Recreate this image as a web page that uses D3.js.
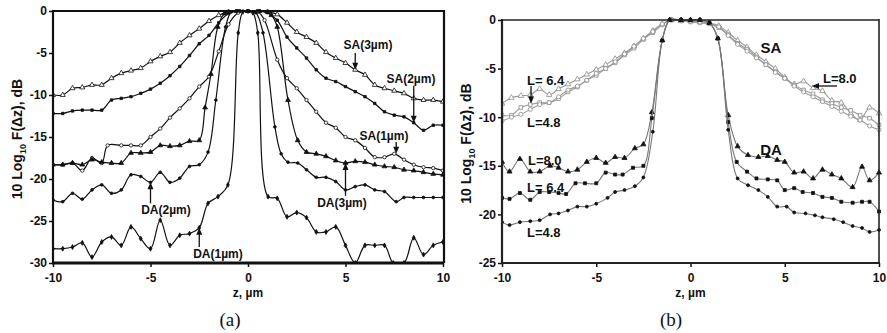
<!DOCTYPE html>
<html>
<head>
<meta charset="utf-8">
<script src="https://cdn.jsdelivr.net/npm/d3@7"></script>
<style>
  body { margin: 0; background: #fff; }
  text { font-family: Arial, "Liberation Sans", sans-serif; }
</style>
</head>
<body>
<svg id="chart" width="887" height="333"></svg>
<script>
// ---------- panel (a): single-aperture (SA) and double-aperture (DA) profiles ----------
const zTicks = [-10, -5, 0, 5, 10];
const yTicksA = [0, -5, -10, -15, -20, -25, -30];
const yTicksB = [0, -5, -10, -15, -20, -25];

const sa3um = [[-10,-10.0],[-9.5,-10.0],[-9,-9.2],[-8.5,-9.1],[-8,-8.8],[-7.5,-8.8],[-7,-8.0],[-6.5,-7.4],[-6,-7.1],[-5.5,-6.8],[-5,-6.0],[-4.5,-5.4],[-4,-4.9],[-3.5,-3.8],[-3,-2.9],[-2.5,-2.1],[-2,-1.2],[-1.5,-0.5],[-1,-0.1],[-0.5,0],[0,0],[0.5,0],[1,-0.1],[1.5,-0.4],[2,-1.4],[2.5,-2.5],[3,-3.1],[3.5,-3.8],[4,-4.9],[4.5,-5.6],[5,-6.2],[5.5,-7.0],[6,-7.6],[6.5,-8.8],[7,-9.2],[7.5,-9.5],[8,-9.8],[8.5,-10.4],[9,-10.6],[9.5,-10.6],[10,-10.8]];
const sa2um = [[-10,-12.2],[-9.5,-12.2],[-9,-11.9],[-8.5,-11.8],[-8,-11.8],[-7.5,-11.8],[-7,-10.6],[-6.5,-10.4],[-6,-10.2],[-5.5,-9.8],[-5,-9.3],[-4.5,-8.6],[-4,-7.7],[-3.5,-6.6],[-3,-5.3],[-2.5,-3.9],[-2,-2.9],[-1.5,-1.4],[-1,-0.3],[-0.5,0],[0,0],[0.5,0],[1,-0.2],[1.5,-1.1],[2,-3.1],[2.5,-4.4],[3,-5.6],[3.5,-7.0],[4,-8.0],[4.5,-8.4],[5,-9.0],[5.5,-9.6],[6,-10.2],[6.5,-11.0],[7,-12.0],[7.5,-12.4],[8,-12.6],[8.5,-13.3],[9,-14.2],[9.5,-13.6],[10,-13.6]];
const sa1um = [[-10,-18.3],[-9.5,-18.3],[-9,-18.1],[-8.5,-19.0],[-8,-17.5],[-7.5,-18.1],[-7.2,-16.0],[-6.5,-16.0],[-6,-16.0],[-5.5,-16.0],[-5,-15.0],[-4.5,-14.0],[-4,-12.7],[-3.5,-11.6],[-3,-10.4],[-2.5,-9.0],[-2,-7.8],[-1.5,-4.8],[-1,-1.6],[-0.5,-0.2],[0,0],[0.5,-0.1],[0.85,-1.1],[1.5,-5.8],[2,-8.0],[2.5,-9.2],[3,-10.6],[3.5,-12.0],[4,-13.3],[4.5,-13.9],[5,-15.0],[5.5,-15.4],[6,-16.3],[6.5,-17.4],[7,-17.4],[7.5,-17.0],[8,-17.7],[8.5,-18.3],[9,-18.6],[9.5,-18.7],[10,-19.0]];
const da3um = [[-10,-18.3],[-9.5,-18.3],[-9,-18.1],[-8.5,-18.3],[-8,-17.7],[-7.5,-18.0],[-7,-18.1],[-6.5,-18.1],[-6,-16.9],[-5.5,-16.9],[-5,-16.8],[-4.5,-16.0],[-4,-16.1],[-3.5,-16.0],[-3,-15.5],[-2.5,-15.4],[-2.2,-11.5],[-1.9,-7.5],[-1.55,-1.9],[-1.2,-0.3],[-0.6,0],[0,0],[0.6,0],[1.2,-0.5],[1.5,-1.9],[2.05,-10.6],[2.55,-15.4],[3,-16.8],[3.5,-17.0],[4,-17.3],[4.5,-17.8],[5,-18.1],[5.5,-17.9],[6,-18.0],[6.5,-18.3],[7,-18.5],[7.5,-18.6],[8,-18.9],[8.5,-19.0],[9,-19.2],[9.5,-19.4],[10,-19.5]];
const da2um = [[-10,-22.5],[-9.5,-22.7],[-9,-21.7],[-8.5,-22.4],[-8,-21.3],[-7.5,-20.7],[-7,-21.7],[-6.5,-21.3],[-6,-19.5],[-5.5,-19.7],[-5,-20.4],[-4.5,-19.2],[-4,-20.4],[-3.5,-19.9],[-3,-18.5],[-2.5,-18.3],[-2.05,-16.8],[-1.65,-10.6],[-1.15,-1.9],[-0.85,-0.1],[-0.4,0],[0,0],[0.4,-0.2],[0.77,-2.6],[1.38,-13.8],[1.7,-17.0],[2.05,-18.0],[2.55,-18.1],[3,-18.9],[3.5,-19.8],[4,-19.8],[4.5,-20.3],[5,-21.3],[5.5,-20.9],[6,-20.7],[6.5,-21.3],[7,-21.5],[7.6,-22.7],[8,-22.2],[8.5,-22.2],[9,-22.2],[9.5,-22.2],[10,-22.2]];
const da1um = [[-10,-28.3],[-9.5,-28.3],[-9,-28.1],[-8.5,-27.6],[-8,-29.3],[-7.5,-27.5],[-7,-26.9],[-6.5,-27.9],[-6,-25.7],[-5.5,-27.1],[-5,-28.3],[-4.5,-24.9],[-4,-27.9],[-3.5,-26.7],[-3,-26.5],[-2.5,-25.8],[-2.05,-22.9],[-1.54,-22.1],[-1.03,-20.7],[-0.5,-2.6],[-0.26,-0.1],[0,0],[0.25,-0.2],[0.5,-2.6],[1.03,-22.1],[1.5,-22.3],[2,-24.5],[2.5,-24.0],[3,-24.6],[3.5,-26.3],[4,-26.3],[4.5,-25.7],[5,-27.9],[5.5,-30],[6,-27.9],[6.5,-27.9],[7,-27.9],[7.45,-30],[8,-30],[8.5,-27.0],[9,-29.0],[9.5,-27.9],[10,-27.5]];

// ---------- panel (b): aperture length L ----------
const saL80 = [[-10,-8.6],[-9.5,-8.0],[-9,-7.8],[-8.5,-7.7],[-8,-7.1],[-7.5,-7.7],[-7,-7.1],[-6.5,-6.6],[-6,-6.1],[-5.5,-5.6],[-5,-5.1],[-4.5,-4.6],[-4,-4.0],[-3.5,-3.4],[-3,-2.7],[-2.5,-1.9],[-2,-1.1],[-1.5,-0.4],[-1,0],[-0.5,-0.1],[0,-0.1],[0.5,-0.2],[1,-0.3],[1.5,-0.6],[2,-1.3],[2.5,-2.1],[3,-2.8],[3.5,-3.6],[4,-4.3],[4.5,-5.0],[5,-5.9],[5.5,-6.6],[6,-6.3],[6.5,-7.0],[7,-7.3],[7.5,-8.3],[8,-8.5],[8.5,-9.6],[9,-10.3],[9.5,-9.0],[10,-9.6]];
const saL64 = [[-10,-9.8],[-9.5,-9.8],[-9,-9.0],[-8.5,-8.7],[-8,-8.5],[-7.5,-8.5],[-7,-8.1],[-6.5,-7.4],[-6,-6.9],[-5.5,-6.2],[-5,-5.7],[-4.5,-5.0],[-4,-4.4],[-3.5,-3.6],[-3,-2.9],[-2.5,-2.0],[-2,-1.3],[-1.5,-0.5],[-1,0],[-0.5,-0.1],[0,-0.2],[0.5,-0.3],[1,-0.4],[1.5,-0.8],[2,-1.5],[2.5,-2.4],[3,-3.0],[3.5,-3.8],[4,-4.6],[4.5,-5.3],[5,-6.0],[5.5,-6.7],[6,-7.2],[6.5,-7.6],[7,-8.2],[7.5,-8.6],[8,-9.0],[8.5,-9.3],[9,-9.8],[9.5,-10.1],[10,-10.8]];
const saL48 = [[-10,-10.4],[-9.5,-10.0],[-9,-9.7],[-8.5,-9.2],[-8,-8.7],[-7.5,-8.5],[-7,-7.9],[-6.5,-7.2],[-6,-6.8],[-5.5,-6.2],[-5,-5.5],[-4.5,-5.0],[-4,-4.3],[-3.5,-3.5],[-3,-2.7],[-2.5,-1.9],[-2,-1.2],[-1.5,-0.4],[-1,0],[-0.5,0],[0,-0.1],[0.5,-0.2],[1,-0.3],[1.5,-0.7],[2,-1.6],[2.5,-2.5],[3,-3.2],[3.5,-3.9],[4,-4.6],[4.5,-5.4],[5,-6.0],[5.5,-6.8],[6,-7.4],[6.5,-7.9],[7,-8.4],[7.5,-8.9],[8,-9.4],[8.5,-9.9],[9,-10.3],[9.5,-10.9],[10,-11.3]];
const daL80 = [[-10,-14.6],[-9.6,-15.6],[-9.05,-14.3],[-8.5,-15.6],[-8,-15.6],[-7.45,-15.0],[-7,-15.2],[-6.5,-15.6],[-6,-15.4],[-5.5,-14.6],[-5,-14.2],[-4.5,-14.7],[-4,-14.1],[-3.5,-14.2],[-2.95,-13.2],[-2.5,-12.8],[-2.05,-9.5],[-1.5,-2.1],[-1.1,0],[-0.5,0],[0,0],[0.5,0],[1,-0.3],[1.45,-1.9],[2.0,-9.8],[2.5,-13.0],[3.05,-13.9],[3.6,-14.1],[4.1,-14.0],[4.6,-14.4],[5.0,-14.6],[5.5,-15.7],[6,-15.6],[6.5,-16.3],[7,-15.4],[7.5,-15.9],[8,-16.3],[8.6,-17.2],[9.1,-15.1],[9.5,-16.5],[10,-15.7]];
const daL64 = [[-10,-18.3],[-9.6,-18.4],[-9.05,-17.8],[-8.5,-18.5],[-8,-17.7],[-7.5,-17.7],[-7,-17.8],[-6.6,-17.9],[-6.1,-16.8],[-5.6,-16.8],[-5,-16.8],[-4.5,-15.7],[-4,-15.9],[-3.6,-15.9],[-3.05,-15.2],[-2.5,-15.0],[-2.05,-10.1],[-1.5,-2.1],[-1.1,0],[-0.5,0],[0,0],[0.5,0],[1,-0.3],[1.45,-1.9],[2.0,-10.5],[2.45,-14.6],[3,-15.6],[3.5,-16.3],[4.1,-16.4],[4.6,-16.5],[5,-17.5],[5.5,-17.3],[5.95,-17.7],[6.5,-17.8],[7,-18.2],[7.5,-18.3],[8,-18.7],[8.6,-18.8],[9.1,-18.7],[9.5,-18.7],[10,-19.7]];
const daL48 = [[-10,-20.8],[-9.6,-21.1],[-9.05,-20.8],[-8.5,-20.7],[-8,-20.6],[-7.45,-20.0],[-7,-19.9],[-6.5,-19.6],[-6,-19.2],[-5.5,-19.2],[-5,-18.9],[-4.4,-18.3],[-4,-17.7],[-3.5,-17.5],[-2.95,-17.1],[-2.5,-16.2],[-2.0,-11.5],[-1.5,-2.1],[-1.1,0],[-0.5,0],[0,0],[0.5,0],[1,-0.3],[1.45,-1.9],[2.0,-11.3],[2.5,-16.3],[3.05,-17.0],[3.6,-17.5],[4.1,-18.2],[4.6,-19.2],[5.1,-19.2],[5.5,-19.8],[6.1,-19.9],[6.6,-20.1],[7,-20.3],[7.6,-20.5],[8.1,-20.8],[8.6,-21.2],[9.1,-21.4],[9.5,-21.8],[10,-21.6]];

const svg = d3.select("#chart");

// scales
const xA = d3.scaleLinear().domain([-10, 10]).range([53, 443]);
const yA = d3.scaleLinear().domain([-30, 0]).range([263, 11]);
const xB = d3.scaleLinear().domain([-10, 10]).range([502, 879]);
const yB = d3.scaleLinear().domain([-25, 0]).range([263, 20]);

const defs = svg.append("defs");
defs.append("clipPath").attr("id", "clipA").append("rect")
  .attr("x", xA(-10)).attr("y", yA(0) - 2).attr("width", xA(10) - xA(-10)).attr("height", yA(-30) - yA(0) + 2);
defs.append("clipPath").attr("id", "clipB").append("rect")
  .attr("x", xB(-10)).attr("y", yB(0) - 3).attr("width", xB(10) - xB(-10) + 3).attr("height", yB(-25) - yB(0) + 3);

function drawSeries(g, x, y, data, opt) {
  const line = d3.line().x(d => x(d[0])).y(d => y(d[1])).curve(d3.curveCatmullRom.alpha(0.5));
  g.append("path").datum(data).attr("d", line)
    .attr("fill", "none").attr("stroke", opt.line).attr("stroke-width", opt.lw || 1.2);
  g.selectAll(null).data(data).enter().append("path")
    .attr("transform", d => `translate(${x(d[0])},${y(d[1])})`)
    .attr("d", d3.symbol().type(opt.sym).size(opt.size))
    .attr("fill", opt.fill).attr("stroke", opt.stroke).attr("stroke-width", 0.8);
}

// plain hyphen-minus tick labels
const fmt = d => String(d);

function axes(x, y, yTicks, yTitleX, labelY, tag, tagX) {
  const g = svg.append("g");
  const ya = g.append("g").attr("transform", `translate(${x.range()[0]},0)`)
    .call(d3.axisLeft(y).tickValues(yTicks).tickSize(4).tickPadding(2).tickFormat(fmt));
  const xa = g.append("g").attr("transform", `translate(0,${y.range()[0]})`)
    .call(d3.axisBottom(x).tickValues(zTicks).tickSize(4).tickPadding(6).tickFormat(fmt));
  [ya, xa].forEach(a => {
    a.select(".domain").remove();
    a.selectAll("text").attr("font-size", 12).attr("font-weight", "bold").attr("fill", "#111");
    a.selectAll("line").attr("stroke", "#111").attr("stroke-width", 1.5);
  });
  const t = g.append("text").attr("transform", `translate(${yTitleX},${(y.range()[0] + y.range()[1]) / 2 + 2}) rotate(-90)`)
    .attr("text-anchor", "middle").attr("font-size", 14).attr("font-weight", "bold").attr("fill", "#111");
  t.append("tspan").text("10 Log");
  t.append("tspan").attr("font-size", 9).attr("dy", 4).text("10");
  t.append("tspan").attr("dy", -4).text(" F(\u0394z),  dB");
  g.append("text").attr("x", (x.range()[0] + x.range()[1]) / 2).attr("y", labelY)
    .attr("text-anchor", "middle").attr("font-size", 12).attr("font-weight", "bold").attr("fill", "#111").text("z, \u00b5m");
  g.append("text").attr("x", tagX).attr("y", 326).attr("text-anchor", "middle")
    .style("font-family", '"Liberation Serif", "Times New Roman", serif').attr("font-size", 19).attr("fill", "#111").text(tag);
}

function arrowV(g, x, y, z, from, to, color) {
  const px = x(z), y0 = y(from), y1 = y(to);
  const dir = Math.sign(y1 - y0);
  g.append("line").attr("x1", px).attr("x2", px).attr("y1", y0).attr("y2", y1 - dir * 6)
    .attr("stroke", color).attr("stroke-width", 1.3);
  g.append("path").attr("d", `M${px},${y1} L${px - 3},${y1 - dir * 7} L${px + 3},${y1 - dir * 7} Z`).attr("fill", color);
}

function label(g, px, py, txt, size, anchor) {
  g.append("text").attr("x", px).attr("y", py).attr("text-anchor", anchor || "middle")
    .attr("font-size", size).attr("font-weight", "bold").attr("fill", "#111").text(txt);
}

// ---------- panel (a) ----------
axes(xA, yA, yTicksA, 22, 297, "(a)", 230);
const gA = svg.append("g").attr("clip-path", "url(#clipA)");
drawSeries(gA, xA, yA, sa3um, {line: "#111", sym: d3.symbolTriangle, size: 11, fill: "#fff", stroke: "#111"});
drawSeries(gA, xA, yA, sa2um, {line: "#111", sym: d3.symbolSquare, size: 6, fill: "#111", stroke: "#111"});
drawSeries(gA, xA, yA, sa1um, {line: "#111", sym: d3.symbolCircle, size: 9, fill: "#fff", stroke: "#111"});
drawSeries(gA, xA, yA, da3um, {line: "#111", sym: d3.symbolTriangle, size: 10, fill: "#111", stroke: "#111"});
drawSeries(gA, xA, yA, da2um, {line: "#111", sym: d3.symbolCircle, size: 6, fill: "#111", stroke: "#111"});
drawSeries(gA, xA, yA, da1um, {line: "#111", sym: d3.symbolDiamond, size: 7, fill: "#111", stroke: "#111"});

// frame of panel (a)
const fA = svg.append("g");
fA.append("line").attr("x1", xA(-10)).attr("x2", xA(10)).attr("y1", yA(0)).attr("y2", yA(0)).attr("stroke", "#111").attr("stroke-width", 2.2);
fA.append("line").attr("x1", xA(-10) - 1).attr("x2", xA(10) + 1).attr("y1", yA(-30)).attr("y2", yA(-30)).attr("stroke", "#111").attr("stroke-width", 3);
fA.append("line").attr("x1", xA(-10)).attr("x2", xA(-10)).attr("y1", yA(0) - 1).attr("y2", yA(-30)).attr("stroke", "#111").attr("stroke-width", 2.2);
fA.append("line").attr("x1", xA(10) + 1).attr("x2", xA(10) + 1).attr("y1", yA(0) - 1).attr("y2", yA(-30)).attr("stroke", "#111").attr("stroke-width", 2.2);

const aA = svg.append("g");
label(aA, 368, 49, "SA(3\u00b5m)", 12);
arrowV(aA, xA, yA, 5.5, -5.0, -7.0, "#111");
label(aA, 411, 83, "SA(2\u00b5m)", 12);
arrowV(aA, xA, yA, 8.5, -8.9, -13.3, "#111");
label(aA, 384, 140, "SA(1\u00b5m)", 12);
arrowV(aA, xA, yA, 7.6, -15.6, -17.0, "#111");
label(aA, 166, 214, "DA(2\u00b5m)", 12);
arrowV(aA, xA, yA, -5.0, -22.9, -20.4, "#111");
label(aA, 342, 207, "DA(3\u00b5m)", 12);
arrowV(aA, xA, yA, 5.0, -22.0, -18.1, "#111");
label(aA, 218, 258, "DA(1\u00b5m)", 12);
arrowV(aA, xA, yA, -2.5, -28.1, -25.8, "#111");

// ---------- panel (b) ----------
axes(xB, yB, yTicksB, 471, 297, "(b)", 671);
const gB = svg.append("g").attr("clip-path", "url(#clipB)");
drawSeries(gB, xB, yB, saL80, {line: "#9a9a9a", lw: 1.1, sym: d3.symbolTriangle, size: 13, fill: "#fff", stroke: "#8a8a8a"});
drawSeries(gB, xB, yB, saL64, {line: "#9a9a9a", lw: 1.1, sym: d3.symbolSquare, size: 13, fill: "#fff", stroke: "#8a8a8a"});
drawSeries(gB, xB, yB, saL48, {line: "#9a9a9a", lw: 1.1, sym: d3.symbolCircle, size: 13, fill: "#fff", stroke: "#8a8a8a"});
drawSeries(gB, xB, yB, daL80, {line: "#777", lw: 1.1, sym: d3.symbolTriangle, size: 11, fill: "#111", stroke: "#111"});
drawSeries(gB, xB, yB, daL64, {line: "#777", lw: 1.1, sym: d3.symbolSquare, size: 9, fill: "#111", stroke: "#111"});
drawSeries(gB, xB, yB, daL48, {line: "#777", lw: 1.1, sym: d3.symbolCircle, size: 7, fill: "#111", stroke: "#111"});

const fB = svg.append("g");
fB.append("line").attr("x1", xB(-10)).attr("x2", xB(10)).attr("y1", yB(0)).attr("y2", yB(0)).attr("stroke", "#222").attr("stroke-width", 1.6);
fB.append("line").attr("x1", xB(-10) - 1).attr("x2", xB(10) + 1).attr("y1", yB(-25)).attr("y2", yB(-25)).attr("stroke", "#222").attr("stroke-width", 2.2);
fB.append("line").attr("x1", xB(-10)).attr("x2", xB(-10)).attr("y1", yB(0) - 1).attr("y2", yB(-25)).attr("stroke", "#222").attr("stroke-width", 2.2);
fB.append("line").attr("x1", xB(10)).attr("x2", xB(10)).attr("y1", yB(0) - 1).attr("y2", yB(-25)).attr("stroke", "#222").attr("stroke-width", 1.6);

const aB = svg.append("g");
label(aB, 527, 85, "L= 6.4", 13, "start");
arrowV(aB, xB, yB, -8.46, -6.8, -8.6, "#111");
label(aB, 527, 127, "L=4.8", 13, "start");
label(aB, 771, 53, "SA", 15);
label(aB, 823, 83, "L=8.0", 13, "start");
// horizontal arrow pointing at the L=8.0 SA curve
aB.append("line").attr("x1", 837).attr("x2", 819).attr("y1", 86).attr("y2", 86).attr("stroke", "#111").attr("stroke-width", 1.3);
aB.append("path").attr("d", "M812,86 L819,83 L819,89 Z").attr("fill", "#111");
label(aB, 771, 155, "DA", 15);
label(aB, 528, 165, "L=8.0", 13, "start");
label(aB, 527, 192, "L= 6.4", 13, "start");
label(aB, 527, 237, "L=4.8", 13, "start");
</script>
</body>
</html>
